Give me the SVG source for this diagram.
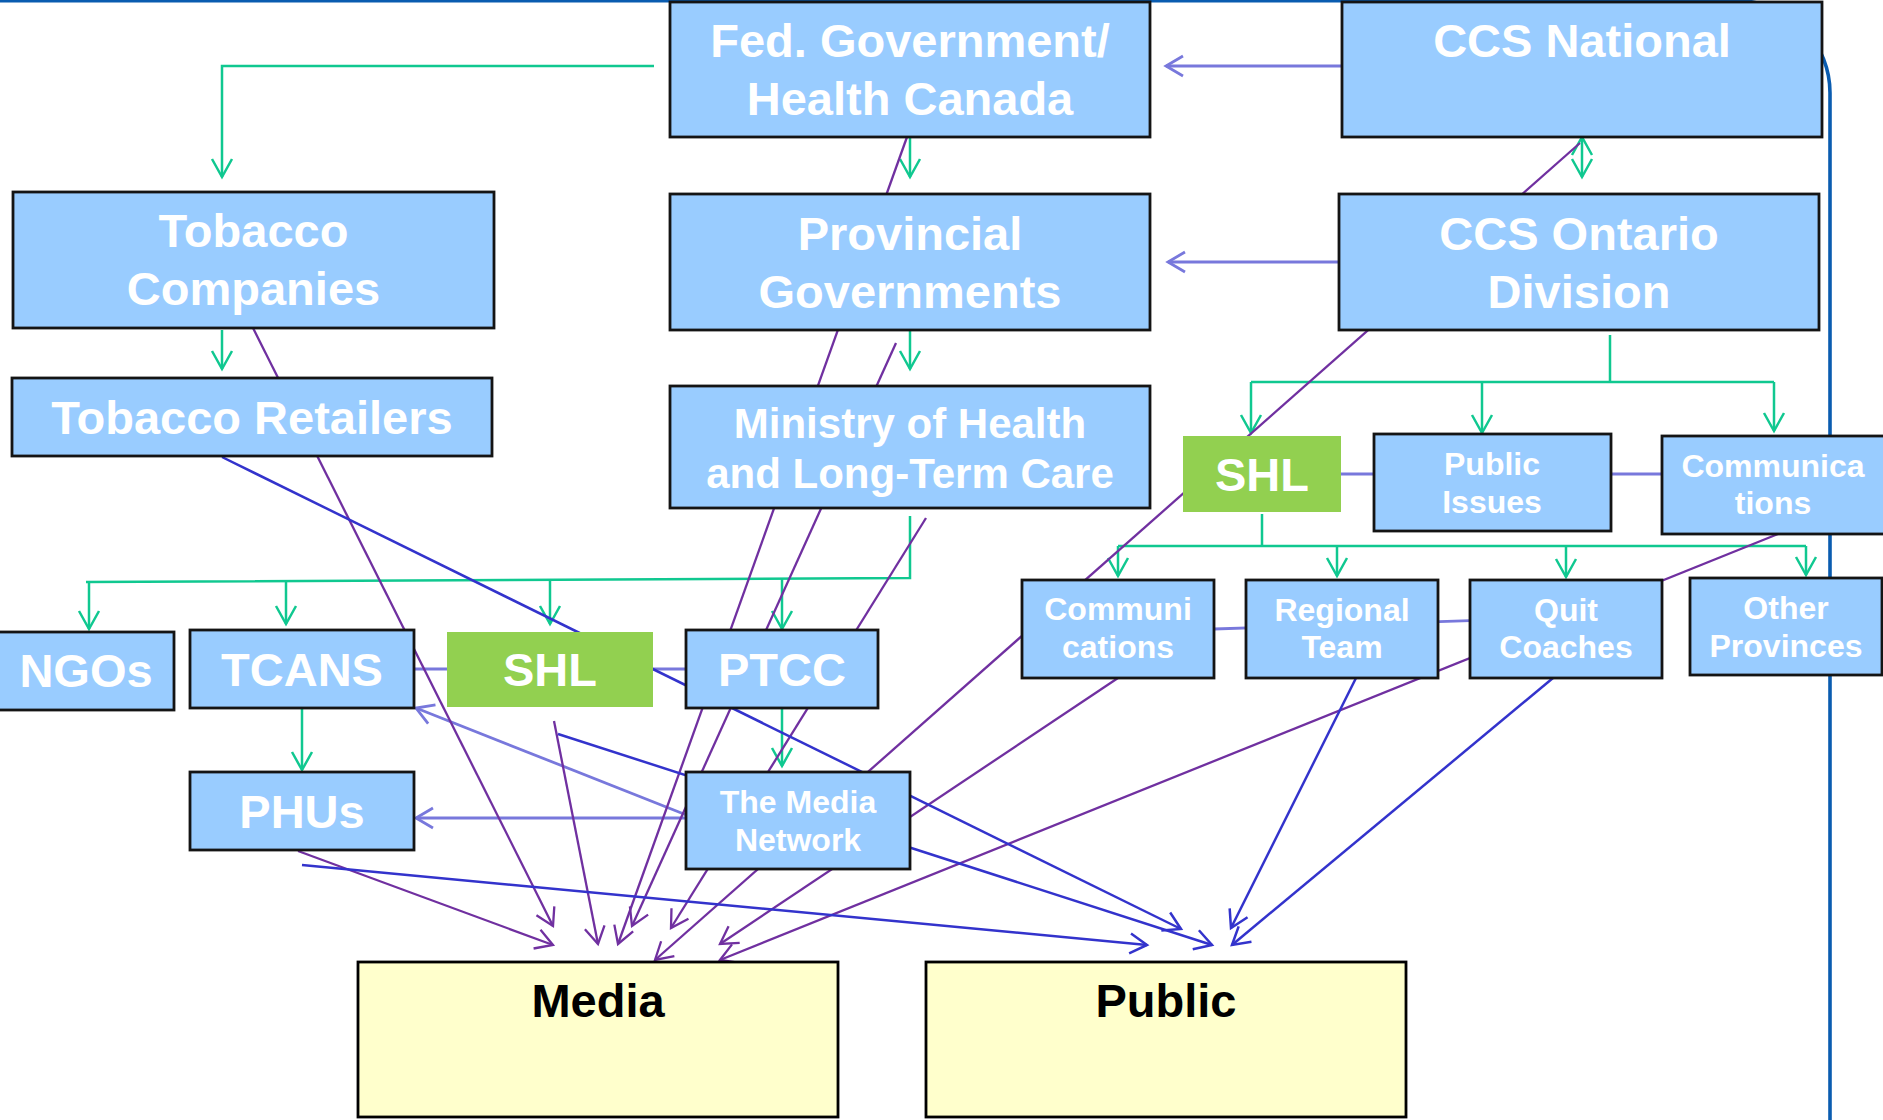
<svg xmlns="http://www.w3.org/2000/svg" width="1883" height="1120" viewBox="0 0 1883 1120">
  <style>
    .box { fill: #99CCFF; stroke: #141414; stroke-width: 2.8; }
    .grn { fill: #92D050; stroke: none; }
    .out { fill: #FFFFCC; stroke: #000; stroke-width: 2.8; }
    .t { font-family: "Liberation Sans", Arial, Helvetica, sans-serif; font-weight: bold; fill: #ffffff; text-anchor: middle; }
    .k { fill: #000000; }
    .xl { font-size: 47px; }
    .lg { font-size: 42px; }
    .sm { font-size: 32px; }
    .g { fill: none; stroke: #10C890; stroke-width: 2.5; }
    .p { fill: none; stroke: #7030A0; stroke-width: 2.3; }
    .b { fill: none; stroke: #3333CC; stroke-width: 2.5; }
    .l { fill: none; stroke: #7878DC; stroke-width: 2.8; }
    .frame { fill: none; stroke: #0A5CB0; stroke-width: 3.6; }
  </style>
  <defs>
    <marker id="aG" markerUnits="userSpaceOnUse" viewBox="-20 -12 22 24" markerWidth="22" markerHeight="24" refX="0" refY="0" orient="auto-start-reverse" overflow="visible">
      <path d="M-18,-10 L0,0 L-18,10" fill="none" stroke="#10C890" stroke-width="2.5"/>
    </marker>
    <marker id="aP" markerUnits="userSpaceOnUse" viewBox="-20 -12 22 24" markerWidth="22" markerHeight="24" refX="0" refY="0" orient="auto" overflow="visible">
      <path d="M-17,-10 L0,0 L-17,10" fill="none" stroke="#7030A0" stroke-width="2.3"/>
    </marker>
    <marker id="aB" markerUnits="userSpaceOnUse" viewBox="-20 -12 22 24" markerWidth="22" markerHeight="24" refX="0" refY="0" orient="auto" overflow="visible">
      <path d="M-17,-10 L0,0 L-17,10" fill="none" stroke="#3333CC" stroke-width="2.5"/>
    </marker>
    <marker id="aL" markerUnits="userSpaceOnUse" viewBox="-20 -12 22 24" markerWidth="22" markerHeight="24" refX="0" refY="0" orient="auto" overflow="visible">
      <path d="M-17,-10 L0,0 L-17,10" fill="none" stroke="#7878DC" stroke-width="2.8"/>
    </marker>
  </defs>

  <rect width="1883" height="1120" fill="#ffffff"/>

  <!-- slide frame edge -->
  <path class="frame" d="M0,0.8 H1738 A92,92 0 0 1 1830,93 V1120"/>

  <g id="connectors">
    <!-- green: reporting / funding hierarchy -->
    <path class="g" d="M654,66 H222 V177" marker-end="url(#aG)"/>
    <path class="g" d="M910,138 V177" marker-end="url(#aG)"/>
    <path class="g" d="M222,330 V369" marker-end="url(#aG)"/>
    <path class="g" d="M910,330 V369" marker-end="url(#aG)"/>
    <path class="g" d="M1582,137 V177" marker-start="url(#aG)" marker-end="url(#aG)"/>
    <path class="g" d="M1610,335 V382 M1251,382 H1774"/>
    <path class="g" d="M1251,382 V433" marker-end="url(#aG)"/>
    <path class="g" d="M1482,382 V433" marker-end="url(#aG)"/>
    <path class="g" d="M1774,382 V431" marker-end="url(#aG)"/>
    <path class="g" d="M1262,514 V546 M1118,546 H1806"/>
    <path class="g" d="M1118,546 V576" marker-end="url(#aG)"/>
    <path class="g" d="M1337,546 V576" marker-end="url(#aG)"/>
    <path class="g" d="M1566,546 V577" marker-end="url(#aG)"/>
    <path class="g" d="M1806,546 V575" marker-end="url(#aG)"/>
    <path class="g" d="M910,516 V578 L86,582"/>
    <path class="g" d="M89,582 V629" marker-end="url(#aG)"/>
    <path class="g" d="M286,581.5 V624" marker-end="url(#aG)"/>
    <path class="g" d="M550,580 V624" marker-end="url(#aG)"/>
    <path class="g" d="M782,579 V629" marker-end="url(#aG)"/>
    <path class="g" d="M302,708 V770" marker-end="url(#aG)"/>
    <path class="g" d="M782,708 V766" marker-end="url(#aG)"/>

    <!-- lavender: partner links -->
    <path class="l" d="M1341,66 H1166" marker-end="url(#aL)"/>
    <path class="l" d="M1339,262 H1168" marker-end="url(#aL)"/>
    <path class="l" d="M414,669 H686"/>
    <path class="l" d="M1341,474 H1662"/>
    <path class="l" d="M1214,629 L1470,620.6"/>
    <path class="l" d="M694,818 H416" marker-end="url(#aL)"/>
    <path class="l" d="M694,818 L416,708" marker-end="url(#aL)"/>

    <!-- purple: messages to media -->
    <path class="p" d="M253,328 L553,926" marker-end="url(#aP)"/>
    <path class="p" d="M298,851 L553,945" marker-end="url(#aP)"/>
    <path class="p" d="M554,721 L598,944" marker-end="url(#aP)"/>
    <path class="p" d="M907,137 L618,944" marker-end="url(#aP)"/>
    <path class="p" d="M896,343 L632,926" marker-end="url(#aP)"/>
    <path class="p" d="M926,518 L671,928" marker-end="url(#aP)"/>
    <path class="p" d="M1580,143 L655,960" marker-end="url(#aP)"/>
    <path class="p" d="M1118,678 L720,944" marker-end="url(#aP)"/>
    <path class="p" d="M1778,534 L720,960" marker-end="url(#aP)"/>

    <!-- blue: messages to the public -->
    <path class="b" d="M302,865 L1147,945" marker-end="url(#aB)"/>
    <path class="b" d="M222,457 L1181,929" marker-end="url(#aB)"/>
    <path class="b" d="M558,734 L1212,945" marker-end="url(#aB)"/>
    <path class="b" d="M1356,678 L1231,928" marker-end="url(#aB)"/>
    <path class="b" d="M1553,678 L1232,945" marker-end="url(#aB)"/>
  </g>

  <g id="fed-government">
    <rect class="box" x="670" y="2" width="480" height="135"/>
    <text class="t xl" x="910" y="57">Fed. Government/</text>
    <text class="t xl" x="910" y="115">Health Canada</text>
  </g>
  <g id="ccs-national">
    <rect class="box" x="1342" y="2" width="480" height="135"/>
    <text class="t xl" x="1582" y="57">CCS National</text>
  </g>
  <g id="tobacco-companies">
    <rect class="box" x="13" y="192" width="481" height="136"/>
    <text class="t xl" x="253.5" y="247">Tobacco</text>
    <text class="t xl" x="253.5" y="305">Companies</text>
  </g>
  <g id="tobacco-retailers">
    <rect class="box" x="12" y="378" width="480" height="78"/>
    <text class="t xl" x="252" y="434">Tobacco Retailers</text>
  </g>
  <g id="provincial-governments">
    <rect class="box" x="670" y="194" width="480" height="136"/>
    <text class="t xl" x="910" y="250">Provincial</text>
    <text class="t xl" x="910" y="308">Governments</text>
  </g>
  <g id="ccs-ontario">
    <rect class="box" x="1339" y="194" width="480" height="136"/>
    <text class="t xl" x="1579" y="250">CCS Ontario</text>
    <text class="t xl" x="1579" y="308">Division</text>
  </g>
  <g id="ministry">
    <rect class="box" x="670" y="386" width="480" height="122"/>
    <text class="t lg" x="910" y="437.5">Ministry of Health</text>
    <text class="t lg" x="910" y="487.5">and Long-Term Care</text>
  </g>
  <g id="shl-division">
    <rect class="grn" x="1183" y="436" width="158" height="76"/>
    <text class="t xl" x="1262" y="491">SHL</text>
  </g>
  <g id="public-issues">
    <rect class="box" x="1374" y="434" width="237" height="97"/>
    <text class="t sm" x="1492" y="475">Public</text>
    <text class="t sm" x="1492" y="512.5">Issues</text>
  </g>
  <g id="communications-division">
    <rect class="box" x="1662" y="436" width="225" height="98"/>
    <text class="t sm" x="1773" y="477">Communica</text>
    <text class="t sm" x="1773" y="514">tions</text>
  </g>
  <g id="communications-shl">
    <rect class="box" x="1022" y="580" width="192" height="98"/>
    <text class="t sm" x="1118" y="619.5">Communi</text>
    <text class="t sm" x="1118" y="657.5">cations</text>
  </g>
  <g id="regional-team">
    <rect class="box" x="1246" y="580" width="192" height="98"/>
    <text class="t sm" x="1342" y="620.5">Regional</text>
    <text class="t sm" x="1342" y="658">Team</text>
  </g>
  <g id="quit-coaches">
    <rect class="box" x="1470" y="580" width="192" height="98"/>
    <text class="t sm" x="1566" y="620.5">Quit</text>
    <text class="t sm" x="1566" y="658">Coaches</text>
  </g>
  <g id="other-provinces">
    <rect class="box" x="1690" y="578" width="192" height="97"/>
    <text class="t sm" x="1786" y="619">Other</text>
    <text class="t sm" x="1786" y="656.5">Provinces</text>
  </g>
  <g id="ngos">
    <rect class="box" x="-2" y="632" width="176" height="78"/>
    <text class="t xl" x="86" y="687">NGOs</text>
  </g>
  <g id="tcans">
    <rect class="box" x="190" y="630" width="224" height="78"/>
    <text class="t xl" x="302" y="686">TCANS</text>
  </g>
  <g id="shl-provincial">
    <rect class="grn" x="447" y="632" width="206" height="75"/>
    <text class="t xl" x="550" y="686">SHL</text>
  </g>
  <g id="ptcc">
    <rect class="box" x="686" y="630" width="192" height="78"/>
    <text class="t xl" x="782" y="686">PTCC</text>
  </g>
  <g id="phus">
    <rect class="box" x="190" y="772" width="224" height="78"/>
    <text class="t xl" x="302" y="828">PHUs</text>
  </g>
  <g id="media-network">
    <rect class="box" x="686" y="772" width="224" height="97"/>
    <text class="t sm" x="798" y="812.7">The Media</text>
    <text class="t sm" x="798" y="850.8">Network</text>
  </g>
  <g id="media">
    <rect class="out" x="358" y="962" width="480" height="155"/>
    <text class="t k xl" x="598" y="1017">Media</text>
  </g>
  <g id="public">
    <rect class="out" x="926" y="962" width="480" height="155"/>
    <text class="t k xl" x="1166" y="1017">Public</text>
  </g>
</svg>
